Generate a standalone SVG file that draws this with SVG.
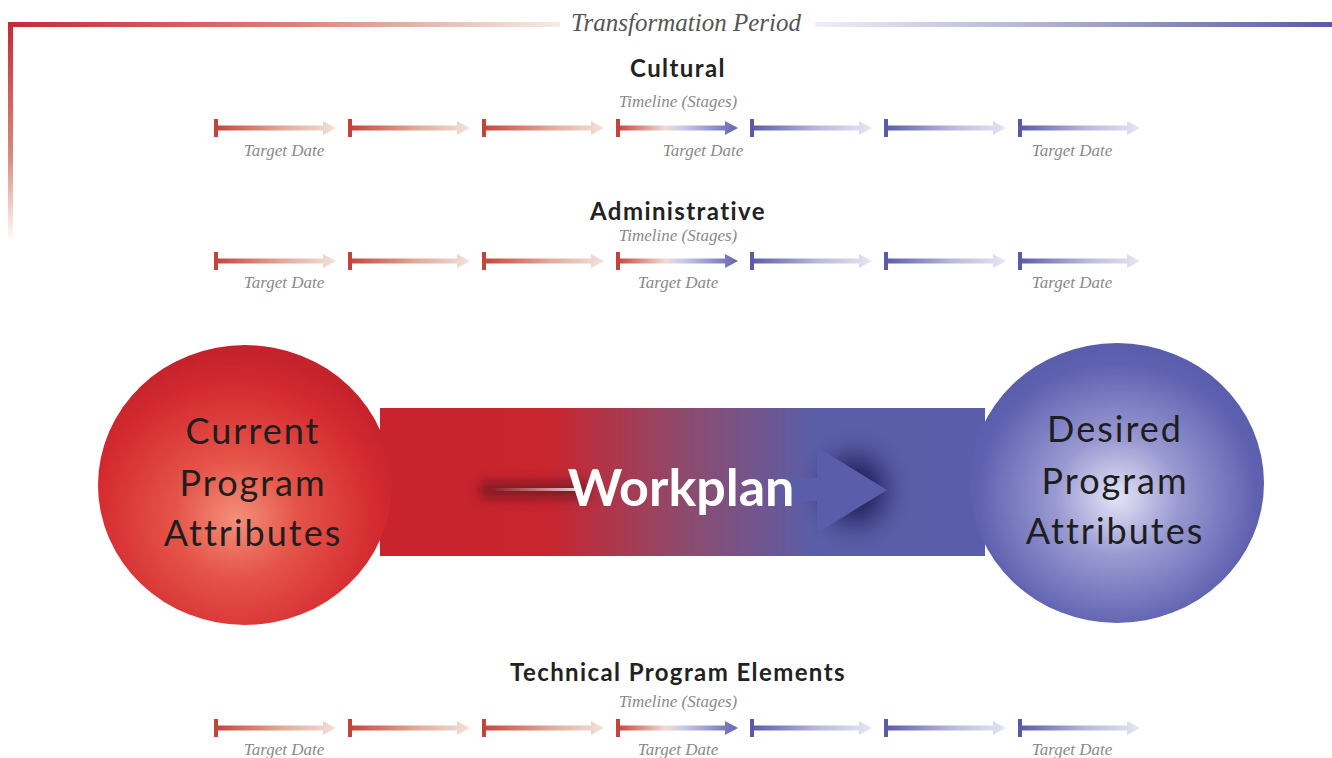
<svg xmlns="http://www.w3.org/2000/svg" width="1332" height="758" viewBox="0 0 1332 758">
<defs>
<style>
.hdr{font-family:"Lato","Noto Sans",sans-serif;font-weight:bold;font-size:24px;fill:#222;text-anchor:middle;letter-spacing:1.4px}
.sm{font-family:"Liberation Serif",serif;font-style:italic;font-size:17px;fill:#8a8a8a;text-anchor:middle}
.circ{font-family:"Lato","Noto Sans",sans-serif;font-size:36px;fill:#1e1e1e;text-anchor:middle;letter-spacing:2px}
.tp{font-family:"Liberation Serif",serif;font-style:italic;font-size:25px;fill:#555;text-anchor:middle}
</style>
<linearGradient id="gRed" x1="0" y1="0" x2="1" y2="0">
<stop offset="0" stop-color="#c4443a"/><stop offset="0.55" stop-color="#e2a898"/><stop offset="1" stop-color="#f2e2da"/>
</linearGradient>
<linearGradient id="gMix" x1="0" y1="0" x2="1" y2="0">
<stop offset="0" stop-color="#c4443a"/><stop offset="0.4" stop-color="#f0dcd4"/><stop offset="0.55" stop-color="#c8c8e8"/><stop offset="1" stop-color="#6464b4"/>
</linearGradient>
<linearGradient id="gBlue" x1="0" y1="0" x2="1" y2="0">
<stop offset="0" stop-color="#5a5aa8"/><stop offset="0.55" stop-color="#b8b8dc"/><stop offset="1" stop-color="#e6e6f4"/>
</linearGradient>
<linearGradient id="topRed" x1="0" y1="0" x2="1" y2="0">
<stop offset="0" stop-color="#c62a36"/><stop offset="0.5" stop-color="#d88070"/><stop offset="1" stop-color="#f4ece8"/>
</linearGradient>
<linearGradient id="topBlue" x1="0" y1="0" x2="1" y2="0">
<stop offset="0" stop-color="#eeeef6"/><stop offset="0.5" stop-color="#a8a8d0"/><stop offset="1" stop-color="#5a5aa6"/>
</linearGradient>
<linearGradient id="vRed" x1="0" y1="0" x2="0" y2="1">
<stop offset="0" stop-color="#c62a36"/><stop offset="0.6" stop-color="#d88878"/><stop offset="1" stop-color="#ffffff"/>
</linearGradient>
<linearGradient id="band" x1="380" y1="0" x2="985" y2="0" gradientUnits="userSpaceOnUse">
<stop offset="0" stop-color="#c8232e"/><stop offset="0.28" stop-color="#c8252f"/><stop offset="0.5" stop-color="#8e4a6c"/><stop offset="0.72" stop-color="#5a5ea8"/><stop offset="1" stop-color="#5a5eaa"/>
</linearGradient>
<radialGradient id="rc" cx="0.47" cy="0.62" r="0.6">
<stop offset="0" stop-color="#f4907a"/><stop offset="0.35" stop-color="#e55448"/><stop offset="0.8" stop-color="#d42a30"/><stop offset="1" stop-color="#c4222c"/>
</radialGradient>
<radialGradient id="bc" cx="0.5" cy="0.55" r="0.6">
<stop offset="0" stop-color="#e4e4f6"/><stop offset="0.35" stop-color="#9a9ad2"/><stop offset="0.8" stop-color="#5e60b0"/><stop offset="1" stop-color="#5658a8"/>
</radialGradient>
<radialGradient id="shadow" cx="0.5" cy="0.5" r="0.5">
<stop offset="0" stop-color="#0a0a30" stop-opacity="0.95"/><stop offset="1" stop-color="#0a0a30" stop-opacity="0"/>
</radialGradient>
<linearGradient id="streak" x1="0" y1="0" x2="1" y2="0">
<stop offset="0" stop-color="#ffffff" stop-opacity="0"/><stop offset="1" stop-color="#ffffff" stop-opacity="0.8"/>
</linearGradient>
<filter id="blur" x="-0.5" y="-0.5" width="2" height="2"><feGaussianBlur stdDeviation="10"/></filter>
<filter id="blur2" x="-0.5" y="-2" width="2" height="5"><feGaussianBlur stdDeviation="6"/></filter>
<path id="arr" d="M0,-2.5 H108 V-7 L121,0 L108,7 V2.5 H0 Z"/>
<g id="segR"><use href="#arr" fill="url(#gRed)"/><rect x="-1" y="-9" width="4" height="18" fill="#c4443a"/></g>
<g id="segM"><use href="#arr" fill="url(#gMix)"/><rect x="-1" y="-9" width="4" height="18" fill="#c4443a"/></g>
<g id="segB"><use href="#arr" fill="url(#gBlue)"/><rect x="-1" y="-9" width="4" height="18" fill="#5a5aa8"/></g>
<g id="row">
<use href="#segR" x="215"/><use href="#segR" x="349"/><use href="#segR" x="483"/><use href="#segM" x="617"/>
<use href="#segB" x="751"/><use href="#segB" x="885"/><use href="#segB" x="1019"/>
</g>
</defs>
<rect width="1332" height="758" fill="#ffffff"/>

<g id="transformation-period">
<rect x="8" y="22" width="5" height="220" fill="url(#vRed)"/>
<rect x="8" y="22" width="552" height="5" fill="url(#topRed)"/>
<rect x="815" y="22" width="517" height="5" fill="url(#topBlue)"/>
<text class="tp" x="686" y="31">Transformation Period</text>
</g>

<g id="connectors">
<g id="cultural-timeline">
<use href="#row" y="128"/>
</g>
<g id="administrative-timeline">
<use href="#row" y="261"/>
</g>
<g id="technical-timeline">
<use href="#row" y="728"/>
</g>
</g>

<g id="cultural">
<text class="hdr" x="678" y="77">Cultural</text>
<text class="sm" x="678" y="107">Timeline (Stages)</text>
<text class="sm" x="284" y="156">Target Date</text>
<text class="sm" x="703" y="156">Target Date</text>
<text class="sm" x="1072" y="156">Target Date</text>
</g>
<g id="administrative">
<text class="hdr" x="678" y="220">Administrative</text>
<text class="sm" x="678" y="241">Timeline (Stages)</text>
<text class="sm" x="284" y="288">Target Date</text>
<text class="sm" x="678" y="288">Target Date</text>
<text class="sm" x="1072" y="288">Target Date</text>
</g>
<g id="technical">
<text class="hdr" x="678" y="681">Technical Program Elements</text>
<text class="sm" x="678" y="707">Timeline (Stages)</text>
<text class="sm" x="284" y="755">Target Date</text>
<text class="sm" x="678" y="755">Target Date</text>
<text class="sm" x="1072" y="755">Target Date</text>
</g>

<g id="workplan">
<rect x="380" y="408" width="605" height="148" fill="url(#band)"/>
<rect x="480" y="482" width="110" height="16" fill="#3a0818" opacity="0.5" filter="url(#blur2)"/>
<rect x="490" y="488" width="90" height="3" fill="url(#streak)"/>
<ellipse cx="855" cy="490" rx="45" ry="50" fill="url(#shadow)" filter="url(#blur)"/>
<path d="M780,478 H817 V447 L887,490 L817,533 V501 H780 Z" fill="#5a5eaa"/>
<text x="681" y="506" font-family="'Lato','Noto Sans',sans-serif" font-weight="bold" font-size="52" fill="#ffffff" text-anchor="middle">Workplan</text>
</g>

<g id="current">
<ellipse cx="245" cy="485" rx="147" ry="140" fill="url(#rc)"/>
<text class="circ" x="253" y="444">Current</text>
<text class="circ" x="253" y="496">Program</text>
<text class="circ" x="253" y="546">Attributes</text>
</g>

<g id="desired">
<ellipse cx="1117" cy="483" rx="147" ry="140" fill="url(#bc)"/>
<text class="circ" x="1115" y="442">Desired</text>
<text class="circ" x="1115" y="494">Program</text>
<text class="circ" x="1115" y="544">Attributes</text>
</g>
</svg>
